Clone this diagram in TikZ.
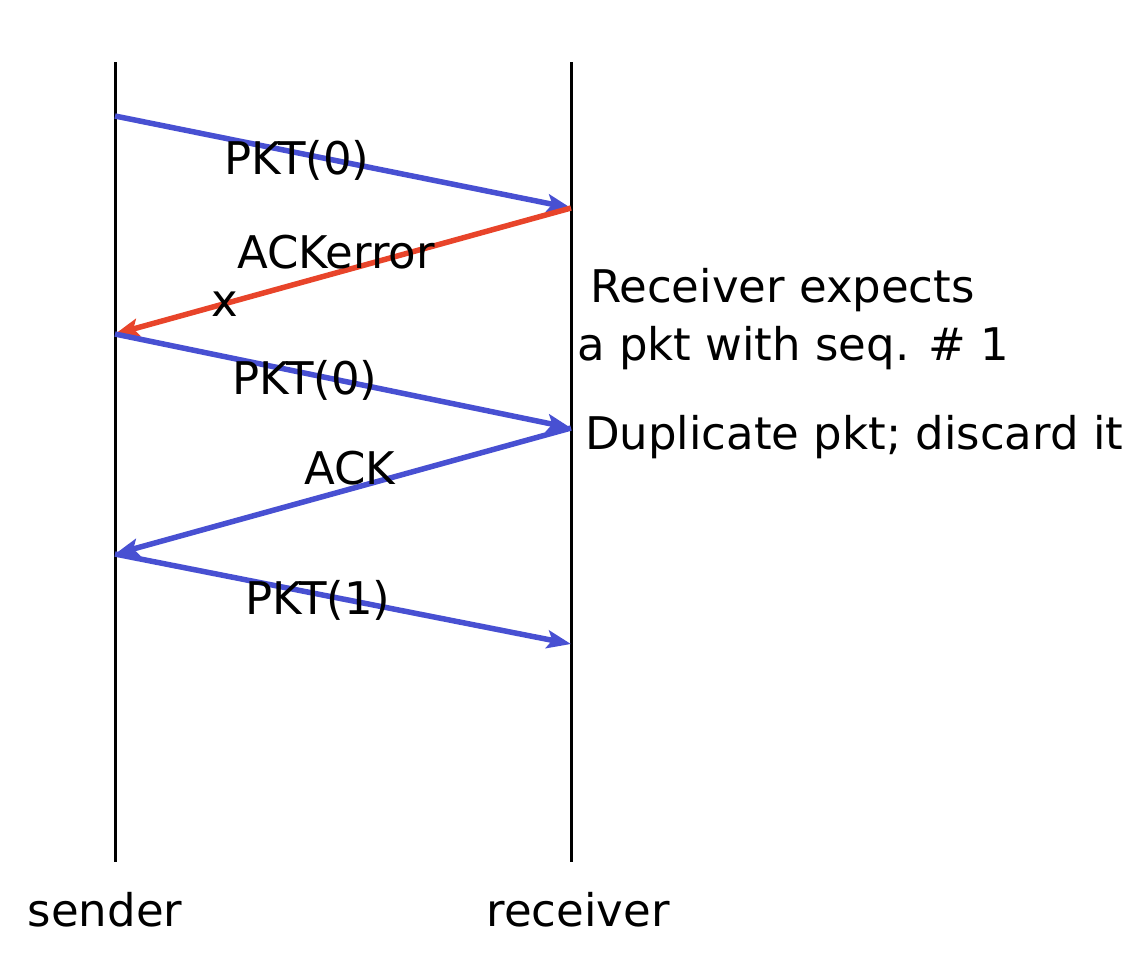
\documentclass[tikz,border=0pt]{standalone}
\usepackage{fontspec}
\setmainfont{DejaVu Sans}
\usetikzlibrary{arrows.meta}
\definecolor{msgblue}{RGB}{72,80,210}
\definecolor{msgred}{RGB}{232,68,42}
\begin{document}
\begin{tikzpicture}[x=1pt,y=-1pt,
  lifeline/.style={line width=3pt, black},
  msg/.style={line width=5.5pt, msgblue, -{Stealth[length=24pt,width=18pt,inset=5pt]}},
  errmsg/.style={msg, msgred},
  lbl/.style={font=\fontsize{45}{54}\selectfont, inner sep=0pt, text=black},
]
\useasboundingbox (0,0) rectangle (1144,954);

% lifelines
\coordinate (stop) at (115,62);  \coordinate (sbot) at (115,862);
\coordinate (rtop) at (571,62);  \coordinate (rbot) at (571,862);
\draw[lifeline] (stop) -- (sbot);
\draw[lifeline] (rtop) -- (rbot);

% message end points
\coordinate (s1) at (115,116);
\coordinate (r1) at (571,208);
\coordinate (s2) at (115,334);
\coordinate (r2) at (571,428);
\coordinate (s3) at (115,554);
\coordinate (r3) at (571,644);

% messages
\draw[msg] (s1) -- (r1);
\draw[errmsg] (r1) -- (s2);
\draw[msg] (s2) -- (r2);
\draw[msg] (r2) -- (s3);
\draw[msg] (s3) -- (r3);

% message labels
\node[lbl] (l1) at (297,160) {PKT(0)};
\node[lbl] (l2) at (336,252) {ACKerror};
\node[lbl] (lx) at (225,304) {x};
\node[lbl] (l3) at (305,380) {PKT(0)};
\node[lbl] (l4) at (350,468) {ACK};
\node[lbl] (l5) at (318,600) {PKT(1)};

% receiver notes
\node[lbl, anchor=west] (n1) at (590,290) {Receiver expects};
\node[lbl, anchor=west] (n2) at (577,348) {a pkt with seq. \# 1};
\node[lbl, anchor=west] (n3) at (585,437) {Duplicate pkt; discard it};

% lifeline names
\node[lbl] (snd) at (105,910) {sender};
\node[lbl] (rcv) at (578,910) {receiver};
\end{tikzpicture}
\end{document}
